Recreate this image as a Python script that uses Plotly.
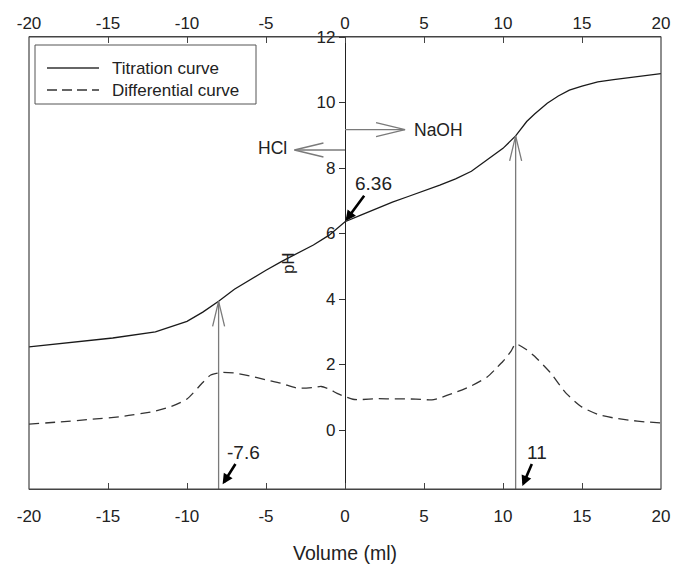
import numpy as np
import plotly.graph_objects as go

# ---- data ----
titr_x = [-20, -17, -14.7, -12, -10, -9, -8, -7, -6, -5, -4, -3, -2, -1, 0, 1, 2, 3, 4, 5, 6, 7, 8, 9, 10,
          10.8, 11.5, 12, 12.8, 13.5, 14.2, 15, 16, 17, 18, 19, 20]
titr_y = [2.54, 2.68, 2.81, 3.0, 3.32, 3.6, 3.93, 4.3, 4.6, 4.88, 5.15, 5.4, 5.65, 5.95, 6.36, 6.56, 6.76, 6.96,
          7.13, 7.3, 7.48, 7.67, 7.9, 8.25, 8.6, 8.98, 9.42, 9.65, 9.98, 10.2, 10.38, 10.5, 10.63, 10.7, 10.76,
          10.82, 10.88]

diff_x = [-20, -18, -16, -14, -12, -11, -10, -9, -8.5, -7.8, -7, -6, -5, -4, -3, -2, -1.5, -1, -0.5, 0, 0.5, 1,
          2, 3, 4, 5, 5.5, 6, 7, 8, 9, 9.5, 10, 10.5, 10.8, 11.5, 12, 13, 14, 15, 16, 17, 18, 19, 20]
diff_y = [0.18, 0.25, 0.33, 0.42, 0.58, 0.72, 0.95, 1.45, 1.68, 1.76, 1.74, 1.65, 1.53, 1.42, 1.28, 1.3, 1.33,
          1.25, 1.12, 1.02, 0.94, 0.93, 0.96, 0.95, 0.95, 0.93, 0.92, 0.98, 1.15, 1.35, 1.62, 1.85, 2.1, 2.4,
          2.63, 2.45, 2.25, 1.75, 1.12, 0.7, 0.48, 0.37, 0.3, 0.25, 0.22]

series_names = ["Titration curve", "Differential curve"]
x_ticks = [-20, -15, -10, -5, 0, 5, 10, 15, 20]
x_ticktext = ["-20", "-15", "-10", "-5", "0", "5", "10", "15", "20"]
y_ticks = [0, 2, 4, 6, 8, 10, 12]
y_ticktext = ["0", "2", "4", "6", "8", "10", "12"]
x_range = [-20, 20]
y_range = [-1.8, 12]

# vertical (equivalence) arrows
eq_arrow_x = [-8.0, 10.8]
# horizontal direction arrows
dir_labels = ["NaOH", "HCl"]
dir_y = [9.17, 8.55]
dir_tip = [3.8, -3.2]
# black callouts
call_labels = ["6.36", "-7.6", "11"]
call_x = [0, -7.78, 11.2]
call_y = [6.36, -1.68, -1.74]
call_ax = [28, 21, 15]
call_ay = [-38, -33, -35]

FONT = "Arial, Liberation Sans, sans-serif"
W, H = 673, 564
ML, MR, MT, MB = 29, 12, 37, 75
pw, ph = W - ML - MR, H - MT - MB
ux = (x_range[1] - x_range[0]) / pw      # data units per px
uy = (y_range[1] - y_range[0]) / ph

fig = go.Figure()
fig.add_trace(go.Scatter(x=titr_x, y=titr_y, mode="lines", name=series_names[0],
                         line=dict(color="#1a1a1a", width=1.3), showlegend=False))
fig.add_trace(go.Scatter(x=diff_x, y=diff_y, mode="lines", name=series_names[1],
                         line=dict(color="#333333", width=1.3, dash="10px,6px", shape="spline",
                                   smoothing=0.6), showlegend=False))
# invisible trace for the top axis
fig.add_trace(go.Scatter(x=x_range, y=[None, None], xaxis="x2", mode="lines",
                         showlegend=False, hoverinfo="skip"))

shapes = []
gray = "#7a7a7a"
for ex in eq_arrow_x:
    tip = float(np.interp(ex, titr_x, titr_y))
    shapes.append(dict(type="line", xref="x", yref="y", x0=ex, x1=ex, y0=y_range[0], y1=tip,
                       line=dict(color=gray, width=1.3)))
    wx, wy = 6 * ux, 25 * uy
    shapes.append(dict(type="path", xref="x", yref="y",
                       path=f"M{ex - wx},{tip - wy} L{ex},{tip} L{ex + wx},{tip - wy}",
                       line=dict(color=gray, width=1.3)))
for lab, yy, tx in zip(dir_labels, dir_y, dir_tip):
    shapes.append(dict(type="line", xref="x", yref="y", x0=0, x1=tx, y0=yy, y1=yy,
                       line=dict(color=gray, width=1.3)))
    sgn = 1 if tx > 0 else -1
    wx, wy = 29 * ux, 7 * uy
    shapes.append(dict(type="path", xref="x", yref="y",
                       path=f"M{tx - sgn * wx},{yy + wy} L{tx},{yy} L{tx - sgn * wx},{yy - wy}",
                       line=dict(color=gray, width=1.3)))

# frame
shapes.append(dict(type="rect", xref="paper", yref="paper", x0=0, x1=1, y0=0, y1=1,
                   line=dict(color="#444444", width=1.2)))

def px2paper(px, py):
    return (px - ML) / pw, 1 - (py - MT) / ph

# manual legend
lx0, ly0 = px2paper(35, 45)
lx1, ly1 = px2paper(256, 104)
shapes.append(dict(type="rect", xref="paper", yref="paper", x0=lx0, x1=lx1, y0=ly1, y1=ly0,
                   line=dict(color="#555555", width=1), fillcolor="white", layer="above"))
annotations = []
leg_rows = [68, 90]
leg_dash = ["solid", "10px,5px"]
for name, row, dsh in zip(series_names, leg_rows, leg_dash):
    a0, b0 = px2paper(47, row)
    a1, _ = px2paper(99, row)
    shapes.append(dict(type="line", xref="paper", yref="paper", x0=a0, x1=a1, y0=b0, y1=b0,
                       line=dict(color="#333333", width=1.3, dash=dsh), layer="above"))
    t0, _ = px2paper(110, row)
    annotations.append(dict(x=t0, y=b0, xref="paper", yref="paper", text=name, showarrow=False,
                            xanchor="left", yanchor="middle", font=dict(size=17, color="#222")))

annotations.append(dict(x=4.25, y=dir_y[0], xref="x", yref="y", text=dir_labels[0], showarrow=False,
                        xanchor="left", yanchor="middle", font=dict(size=17.5, color="#222")))
annotations.append(dict(x=-3.55, y=dir_y[1] + 0.05, xref="x", yref="y", text=dir_labels[1], showarrow=False,
                        xanchor="right", yanchor="middle", font=dict(size=17.5, color="#222")))
for lab, cx, cy, ax, ay in zip(call_labels, call_x, call_y, call_ax, call_ay):
    annotations.append(dict(x=cx, y=cy, xref="x", yref="y", text=lab, showarrow=True,
                            ax=ax, ay=ay, arrowhead=2, arrowsize=0.8, arrowwidth=2.6,
                            arrowcolor="black", standoff=1, font=dict(size=19, color="#222")))
annotations.append(dict(x=-3.6, y=(y_range[0] + y_range[1]) / 2, xref="x", yref="y", text="pH",
                        showarrow=False, textangle=-90, font=dict(size=17, color="#222")))
_, ty = px2paper(0, 553)
annotations.append(dict(x=0.5, y=ty, xref="paper", yref="paper", text="Volume (ml)", showarrow=False,
                        yanchor="middle", font=dict(size=19.5, color="#222")))

fig.update_layout(
    width=W, height=H,
    margin=dict(l=ML, r=MR, t=MT, b=MB, autoexpand=False),
    paper_bgcolor="white", plot_bgcolor="white",
    font=dict(family=FONT, size=17, color="#222"),
    showlegend=False,
    xaxis=dict(range=x_range, tickvals=x_ticks, ticktext=x_ticktext, ticks="inside", ticklen=6,
               tickcolor="#444", showline=True, linecolor="#444", showgrid=False, zeroline=False,
               ticklabelstandoff=12, tickfont=dict(size=17), automargin=False),
    xaxis2=dict(range=x_range, tickvals=x_ticks, ticktext=x_ticktext, overlaying="x", side="top",
                ticks="inside", ticklen=6, tickcolor="#444", showline=True, linecolor="#444",
                showgrid=False, zeroline=False, tickfont=dict(size=17), automargin=False),
    yaxis=dict(range=y_range, tickvals=y_ticks, ticktext=y_ticktext, ticks="outside", ticklen=6,
               tickcolor="#333", showline=True, linecolor="#222", linewidth=1.2, showgrid=False,
               zeroline=False, anchor="free", position=0.5, tickfont=dict(size=17), automargin=False),
    shapes=shapes,
    annotations=annotations,
)

fig.write_html("out.html")
